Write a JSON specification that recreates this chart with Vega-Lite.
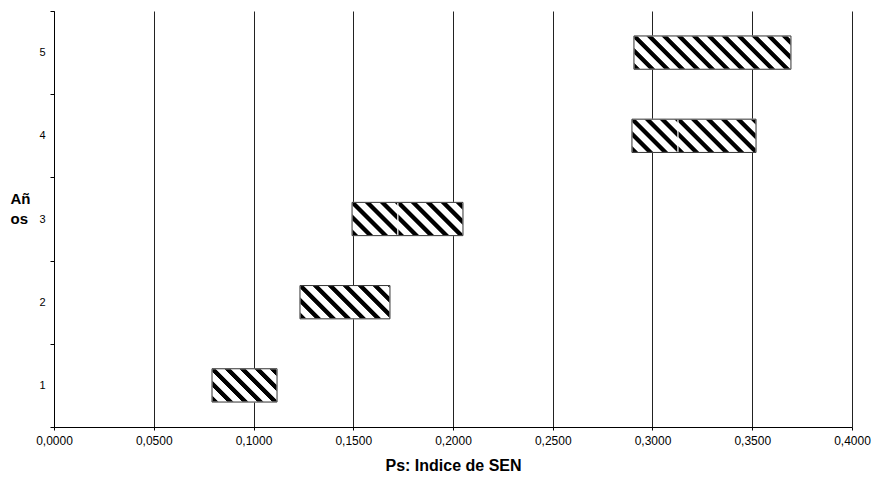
{
  "$schema": "https://vega.github.io/schema/vega-lite/v6.json",
  "width": 798,
  "height": 416,
  "autosize": {"type": "none"},
  "padding": {"left": 54, "top": 11, "right": 21, "bottom": 52},
  "background": "white",
  "config": {
    "view": {"stroke": null},
    "font": "Liberation Sans",
    "axis": {"labelFont": "Liberation Sans", "titleFont": "Liberation Sans", "labelColor": "#000", "titleColor": "#000", "domainColor": "#000", "tickColor": "#000"}
  },
  "params": [
    {"name": "stops", "value": [
      {"offset": 0.005, "color": "#000"}, {"offset": 0.0286, "color": "#000"}, {"offset": 0.0346, "color": "#fff"}, {"offset": 0.0714, "color": "#fff"},
      {"offset": 0.0764, "color": "#000"}, {"offset": 0.1, "color": "#000"}, {"offset": 0.106, "color": "#fff"}, {"offset": 0.1429, "color": "#fff"},
      {"offset": 0.1479, "color": "#000"}, {"offset": 0.1714, "color": "#000"}, {"offset": 0.1774, "color": "#fff"}, {"offset": 0.2143, "color": "#fff"},
      {"offset": 0.2193, "color": "#000"}, {"offset": 0.2429, "color": "#000"}, {"offset": 0.2489, "color": "#fff"}, {"offset": 0.2857, "color": "#fff"},
      {"offset": 0.2907, "color": "#000"}, {"offset": 0.3143, "color": "#000"}, {"offset": 0.3203, "color": "#fff"}, {"offset": 0.3571, "color": "#fff"},
      {"offset": 0.3621, "color": "#000"}, {"offset": 0.3857, "color": "#000"}, {"offset": 0.3917, "color": "#fff"}, {"offset": 0.4286, "color": "#fff"},
      {"offset": 0.4336, "color": "#000"}, {"offset": 0.4571, "color": "#000"}, {"offset": 0.4631, "color": "#fff"}, {"offset": 0.5, "color": "#fff"},
      {"offset": 0.505, "color": "#000"}, {"offset": 0.5286, "color": "#000"}, {"offset": 0.5346, "color": "#fff"}, {"offset": 0.5714, "color": "#fff"},
      {"offset": 0.5764, "color": "#000"}, {"offset": 0.6, "color": "#000"}, {"offset": 0.606, "color": "#fff"}, {"offset": 0.6429, "color": "#fff"},
      {"offset": 0.6479, "color": "#000"}, {"offset": 0.6714, "color": "#000"}, {"offset": 0.6774, "color": "#fff"}, {"offset": 0.7143, "color": "#fff"},
      {"offset": 0.7193, "color": "#000"}, {"offset": 0.7429, "color": "#000"}, {"offset": 0.7489, "color": "#fff"}, {"offset": 0.7857, "color": "#fff"},
      {"offset": 0.7907, "color": "#000"}, {"offset": 0.8143, "color": "#000"}, {"offset": 0.8203, "color": "#fff"}, {"offset": 0.8571, "color": "#fff"},
      {"offset": 0.8621, "color": "#000"}, {"offset": 0.8857, "color": "#000"}, {"offset": 0.8917, "color": "#fff"}, {"offset": 0.9286, "color": "#fff"},
      {"offset": 0.9336, "color": "#000"}, {"offset": 0.9571, "color": "#000"}, {"offset": 0.9631, "color": "#fff"}, {"offset": 1, "color": "#fff"}
    ]}
  ],
  "data": {"values": [
    {"year": 1, "lo": 0.0792, "hi": 0.1118},
    {"year": 2, "lo": 0.1233, "hi": 0.1684},
    {"year": 3, "lo": 0.1494, "hi": 0.1724},
    {"year": 3, "lo": 0.1724, "hi": 0.2050},
    {"year": 4, "lo": 0.2897, "hi": 0.3128},
    {"year": 4, "lo": 0.3128, "hi": 0.3519},
    {"year": 5, "lo": 0.2907, "hi": 0.3694}
  ]},
  "encoding": {
    "y": {
      "field": "year", "type": "ordinal", "sort": "descending",
      "scale": {"paddingInner": 0, "paddingOuter": 0},
      "axis": {
        "title": ["Añ", "os"], "titleAngle": 0, "titleFontSize": 15, "titleFontWeight": "bold",
        "titleAlign": "left", "titleBaseline": "alphabetic", "titleX": -44, "titleY": 192, "titleLineHeight": 20,
        "tickBand": "extent", "tickSize": 4, "labelPadding": 5, "labelFontSize": 11, "labelAngle": 0,
        "grid": false, "domainWidth": 1
      }
    }
  },
  "layer": [
    {
      "mark": {
        "type": "bar",
        "height": {"band": 0.4},
        "stroke": "#fff",
        "strokeWidth": 1,
        "fill": {"expr": "{gradient: 'linear', x1: 0, y1: 1, x2: 210 * (scale('x', datum.hi) - scale('x', datum.lo)) / (pow(scale('x', datum.hi) - scale('x', datum.lo), 2) + pow(0.4 * bandwidth('y'), 2)), y2: 1 - 210 * 0.4 * bandwidth('y') / (pow(scale('x', datum.hi) - scale('x', datum.lo), 2) + pow(0.4 * bandwidth('y'), 2)), stops: stops}"}
      },
      "encoding": {
        "x": {
          "field": "lo", "type": "quantitative",
          "scale": {"domain": [0, 0.4], "nice": false, "zero": false},
          "axis": {
            "title": "Ps: Indice de SEN", "titleFontSize": 16, "titleFontWeight": "bold", "titlePadding": 11,
            "values": [0, 0.05, 0.1, 0.15, 0.2, 0.25, 0.3, 0.35, 0.4],
            "labelExpr": "replace(format(datum.value, '.4f'), '.', ',')",
            "labelFontSize": 12, "labelPadding": 5, "tickSize": 3,
            "grid": true, "gridColor": "#222", "gridWidth": 1, "gridOpacity": 1,
            "labelFlush": false, "labelOverlap": false
          }
        },
        "x2": {"field": "hi"}
      }
    },
    {
      "mark": {"type": "bar", "height": {"band": 0.4}, "fillOpacity": 0, "stroke": "#333", "strokeWidth": 1},
      "encoding": {
        "x": {"aggregate": "min", "field": "lo", "type": "quantitative"},
        "x2": {"aggregate": "max", "field": "hi"}
      }
    }
  ]
}
